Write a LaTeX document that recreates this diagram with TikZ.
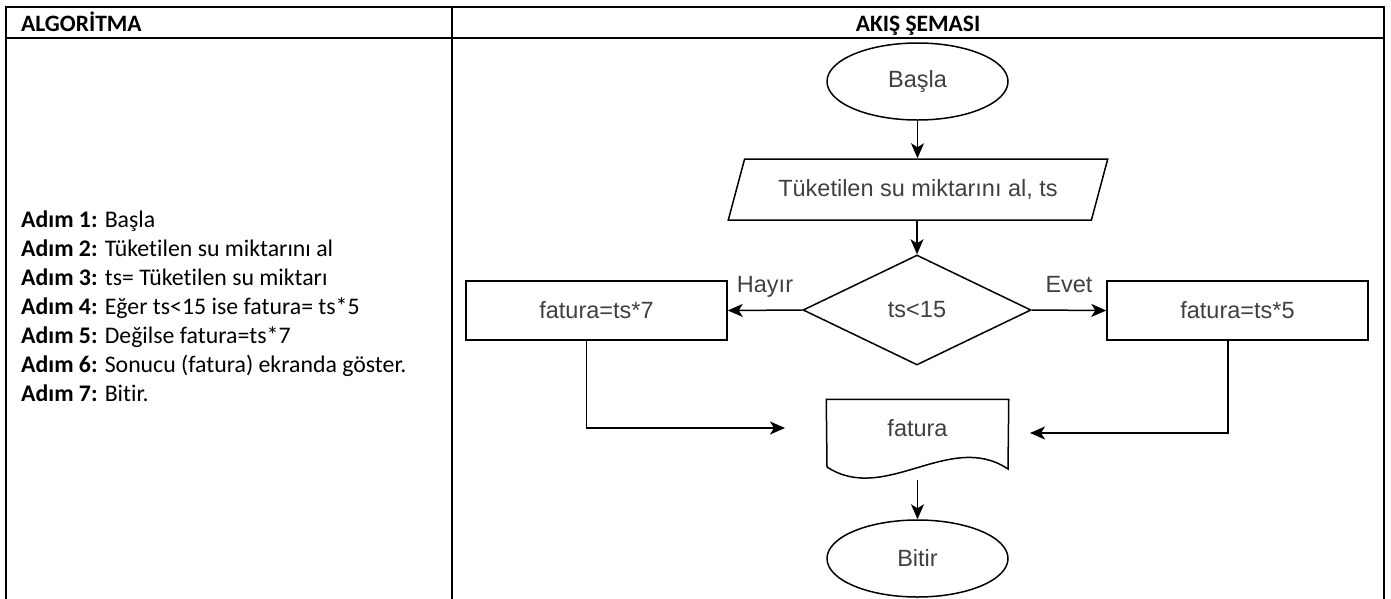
\documentclass[tikz,border=0pt]{standalone}
\usepackage{fontspec}
\setmainfont{Carlito}[Ligatures=NoCommon]
\newfontfamily\ablauffont{Liberation Sans}
\usetikzlibrary{shapes.geometric,arrows.meta,positioning}

\tikzset{
  rahmen/.style={line width=2pt, black},
  linie/.style={line width=1.5pt, draw=black},
  pfeil/.style={linie, -{Stealth[length=15pt,width=13pt,inset=4pt]}},
  ablauf/.style={linie, font=\ablauffont\fontsize{23.5}{28}\selectfont, text=black!75, inner sep=0pt},
  terminal/.style={ablauf, ellipse, minimum width=181pt, minimum height=77pt},
  eingabebox/.style={ablauf, trapezium, trapezium left angle=56.7, trapezium right angle=123.3,
    trapezium stretches=true, minimum width=380pt, minimum height=61pt},
  abfragebox/.style={ablauf, diamond, minimum width=228pt, minimum height=110pt},
  prozessbox/.style={ablauf, rectangle, minimum width=261pt, minimum height=59pt},
  marke/.style={font=\ablauffont\fontsize{23.5}{28}\selectfont, text=black!75, inner sep=0pt},
  kopf/.style={font=\bfseries\fontsize{23.5}{28}\selectfont, inner sep=0pt},
}

\begin{document}
\begin{tikzpicture}[x=1pt, y=-1pt]
  \useasboundingbox (0,0) rectangle (1391,598);

  % Tabelle zeichnen
  \draw[rahmen] (5.7,610) -- (5.7,7) -- (1384,7) -- (1384,610);
  \draw[rahmen] (5.7,38) -- (1384,38);
  \draw[rahmen] (452,7) -- (452,610);

  % Kopfzeile
  \node[kopf, anchor=base west] (kopflinks) at (21,31) {ALGORİTMA};
  \node[kopf, anchor=base] (kopfrechts) at (918,31) {AKIŞ ŞEMASI};

  % Algorithmus (linke Spalte)
  \node[anchor=north west, align=left, inner sep=0pt, font=\fontsize{23.8}{29}\selectfont] (schritte) at (21,211) {%
    \textbf{Adım 1:} Başla\\
    \textbf{Adım 2:} Tüketilen su miktarını al\\
    \textbf{Adım 3:} ts= Tüketilen su miktarı\\
    \textbf{Adım 4:} Eğer ts<15 ise fatura= ts*5\\
    \textbf{Adım 5:} Değilse fatura=ts*7\\
    \textbf{Adım 6:} Sonucu (fatura) ekranda göster.\\
    \textbf{Adım 7:} Bitir.};

  % Knoten des Ablaufplans
  \node[terminal] (start) at (917.5,81.5) {Başla};
  \node[eingabebox] (eingabe) at (918,189.5) {Tüketilen su miktarını al, ts};
  \node[abfragebox] (abfrage) at (917,310) {ts<15};
  \node[prozessbox] (sonst) at (596.5,310.5) {fatura=ts*7};
  \node[prozessbox] (dann) at (1237.5,310.5) {fatura=ts*5};
  \node[ablauf, draw=none, minimum width=181pt, minimum height=56pt] (ausgabe) at (917.5,428) {fatura};
  \node[terminal] (ende) at (917.5,558.5) {Bitir};

  % Dokument mit Wellenkante
  \draw[linie] (ausgabe.north west) -- (ausgabe.north east) -- (1008,469)
    .. controls (950,430) and (885,505) .. (827,467) -- cycle;

  % freie Pfeilenden
  \coordinate (linksende) at (785,428);
  \coordinate (rechtsende) at (1030,433);
  \coordinate (ausgabeunten) at (917.5,480);

  % Pfeile
  \draw[pfeil] (start) -- (start |- eingabe.north);
  \draw[pfeil] (abfrage.north |- eingabe.south) -- (abfrage.north);
  \draw[pfeil] (abfrage.west) -- (sonst.east) node[marke, midway, anchor=base, yshift=18pt] (nein) {Hayır};
  \draw[pfeil] (abfrage.east) -- (dann.west) node[marke, midway, anchor=base, yshift=18pt] (ja) {Evet};
  \draw[pfeil] ([xshift=-10pt]sonst.south) |- (linksende);
  \draw[pfeil] ([xshift=-9.5pt]dann.south) |- (rechtsende);
  \draw[pfeil] (ausgabeunten) -- (ende);

\end{tikzpicture}
\end{document}
